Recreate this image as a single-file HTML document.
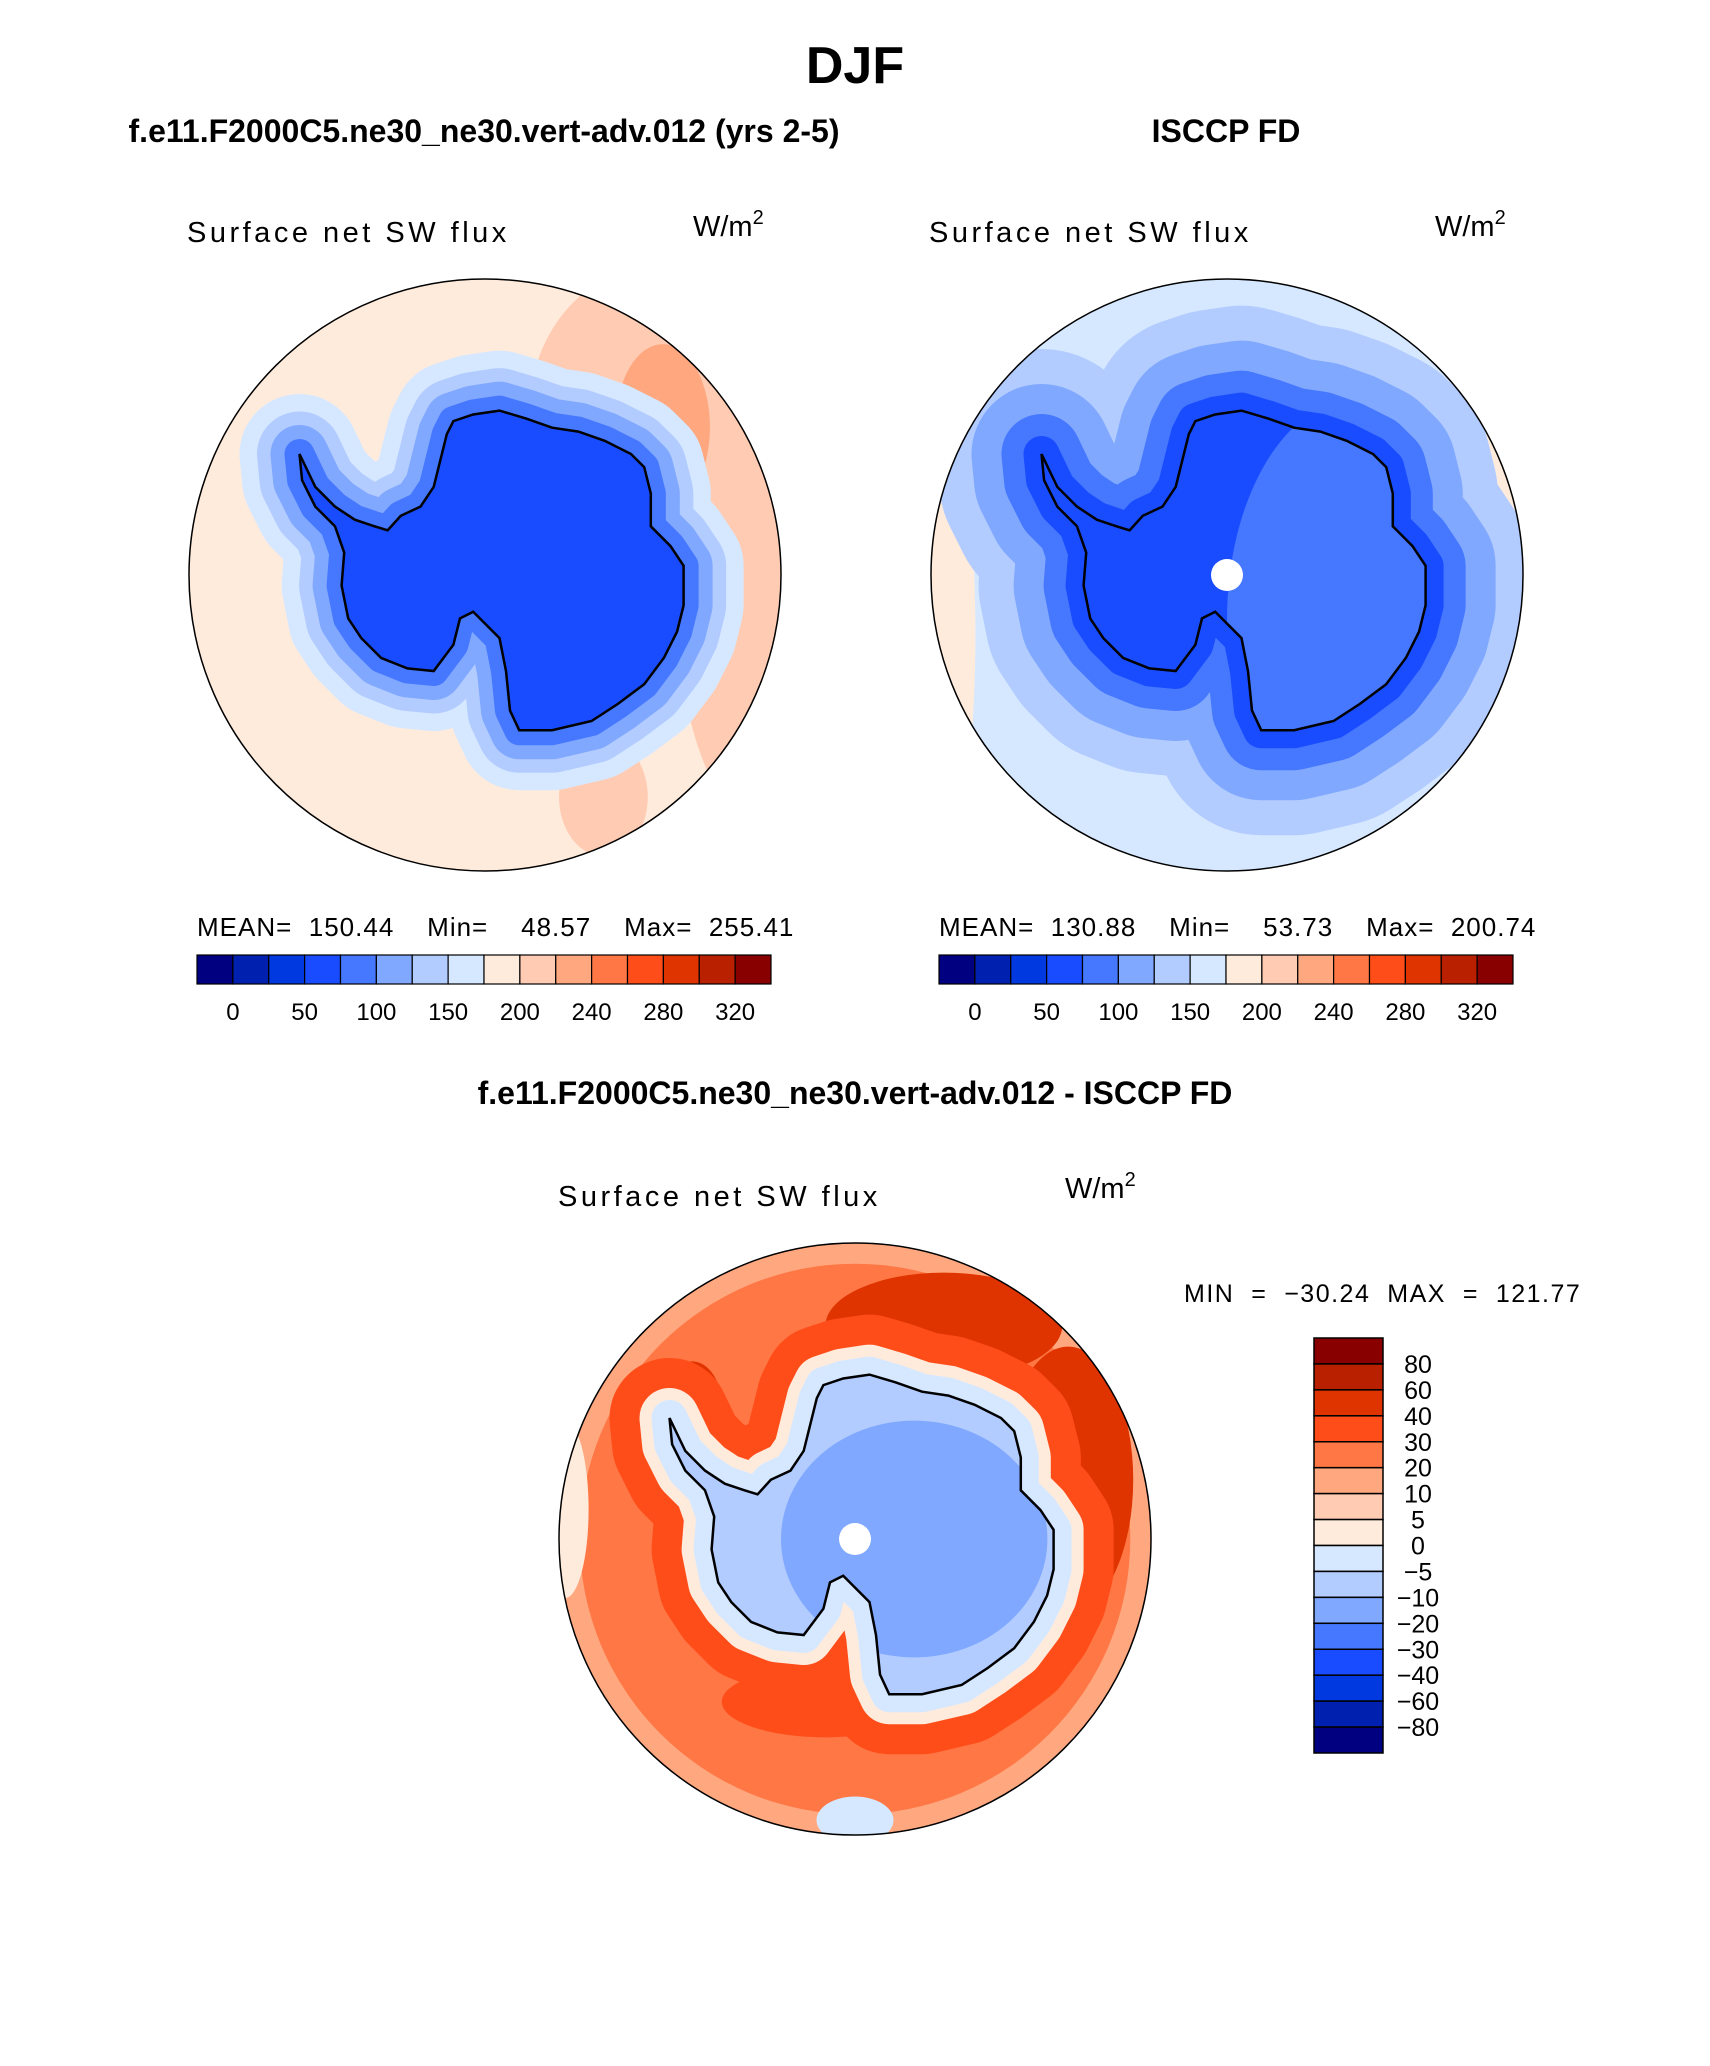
<!DOCTYPE html>
<html><head><meta charset="utf-8"><style>
body{margin:0;background:#fff}
svg text{font-family:"Liberation Sans",sans-serif;white-space:pre}
</style></head><body>
<svg id="fig" width="1710" height="2061" viewBox="0 0 1710 2061" xmlns="http://www.w3.org/2000/svg" xml:space="preserve">
<rect width="1710" height="2061" fill="#fff"/>
<text x="855" y="83" font-size="52" font-weight="bold" text-anchor="middle">DJF</text>
<text x="484" y="142" font-size="32" font-weight="bold" text-anchor="middle">f.e11.F2000C5.ne30_ne30.vert-adv.012 (yrs 2-5)</text>
<text x="1226" y="142" font-size="32" font-weight="bold" text-anchor="middle">ISCCP FD</text>
<text x="855" y="1104" font-size="32" font-weight="bold" text-anchor="middle">f.e11.F2000C5.ne30_ne30.vert-adv.012 - ISCCP FD</text>
<g id="maps"></g>
<g id="bars"></g>
</svg>
<script>
const NS="http://www.w3.org/2000/svg";
const colors=["#000080","#0020b0","#0039e0","#1a4cff","#4577ff","#80a8ff","#b3ccff","#d6e8ff","#ffebdc","#ffccb3","#ffa880","#ff7744","#ff4d1a","#e03400","#b82000","#880000"];
const absLabels=["0","50","100","150","200","240","280","320"];
const diffLabels=["−80","−60","−40","−30","−20","−10","−5","0","5","10","20","30","40","60","80"];
const coastX=[228,240,255,270,285,295,305,320,330,340,345,360,380,400,420,440,460,480,490,495,495,510,520,520,515,505,490,470,450,420,395,388,385,380,360,350,345,330,310,290,275,265,260,262,255,240,230];
const coastY=[345,370,385,395,400,403,392,385,370,330,320,315,312,318,325,328,335,345,355,375,400,415,430,460,480,500,520,535,548,555,555,540,510,485,465,470,490,510,508,500,485,470,445,420,400,385,365];
// halo bands: [stroke width in px, colorIndex]
const leftBands=[[120,7],[85,6],[58,5],[30,4]];
const leftFill=3;
const rightBands=[[210,6],[140,5],[80,4],[36,3]];
const rightFill=3;
const diffBands=[[120,12],[60,8],[36,7]];
const diffFill=6;
const maps=document.getElementById('maps');
function el(t,a,p){const e=document.createElementNS(NS,t);for(const k in a)e.setAttribute(k,a[k]);(p||maps).appendChild(e);return e;}
function pts(cx,cy,r){return coastX.map((x,i)=>{const nx=(x-369)/225,ny=(coastY[i]-437)/225;return (cx+nx*r).toFixed(1)+","+(cy+ny*r).toFixed(1);}).join(" ");}
function map(id,cx,cy,bg,extras,bands,fill,inner,pole){
  const r=296;
  const cp=el('clipPath',{id:'c'+id});el('circle',{cx,cy,r},cp);
  const ap=el('clipPath',{id:'a'+id});el('polygon',{points:pts(cx,cy,r)},ap);
  const g=el('g',{'clip-path':'url(#c'+id+')'});
  
  
  el('rect',{x:cx-r,y:cy-r,width:2*r,height:2*r,fill:bg},g);
  extras.forEach(e=>el('ellipse',{cx:cx+e[0]*r,cy:cy+e[1]*r,rx:e[2]*r,ry:e[3]*r,fill:colors[e[4]]},g));
  bands.forEach(b=>el('polygon',{points:pts(cx,cy,r),fill:colors[b[1]],stroke:colors[b[1]],'stroke-width':b[0],'stroke-linejoin':'round'},g));
  el('polygon',{points:pts(cx,cy,r),fill:colors[fill]},g);
  const ig=el('g',{'clip-path':'url(#a'+id+')'},g);
  inner.forEach(e=>el('ellipse',{cx:cx+e[0]*r,cy:cy+e[1]*r,rx:e[2]*r,ry:e[3]*r,fill:colors[e[4]]},ig));
  const c=el('polygon',{points:pts(cx,cy,r),fill:'none',stroke:'#000','stroke-width':2.5},g);
  
  
  if(pole)el('circle',{cx,cy,r:16,fill:'#fff'},g);
  const o=el('circle',{cx,cy,r,fill:'none',stroke:'#000','stroke-width':1.5});
  
  
}
map('model',485,575,colors[8],[[0.6,-0.55,0.45,0.5,9],[0.95,0.1,0.3,0.75,9],[0.6,-0.5,0.16,0.28,10],[-1.0,-0.5,0.1,0.15,9],[0.4,0.75,0.15,0.2,9]],leftBands,leftFill,[],false);
map('obs',1227,575,colors[7],[[-1.05,0.2,0.2,1.0,8],[1.12,0,0.28,1.0,8],[-0.95,-0.6,0.15,0.2,9]],rightBands,rightFill,[[0.45,0.15,0.45,0.75,4]],true);
map('diff',855,1539,colors[10],[[0,0,0.93,0.93,11],[0.3,-0.72,0.4,0.18,13],[0.72,-0.2,0.22,0.45,13],[-0.98,-0.1,0.08,0.3,8],[0,0.95,0.13,0.08,7],[-0.55,-0.45,0.1,0.15,13],[-0.1,0.55,0.35,0.12,12]],diffBands,diffFill,[[0.2,0,0.45,0.4,5]],true);
function txt(x,y,s,size,name,anchor){const t=el('text',{x,y,'font-size':size,'text-anchor':anchor||'start'});t.textContent=s;return t;}
function sup(x,y,name){const t=txt(x,y,'W/m','29',name);const s=document.createElementNS(NS,'tspan');s.setAttribute('dy','-12');s.setAttribute('font-size','20');s.textContent='2';t.appendChild(s);}
txt(187,242,'Surface net SW flux',29,'model-var-label').setAttribute('letter-spacing','3.5');
sup(693,236,'model-units');
txt(929,242,'Surface net SW flux',29,'obs-var-label').setAttribute('letter-spacing','3.5');
sup(1435,236,'obs-units');
txt(558,1206,'Surface net SW flux',29,'diff-var-label').setAttribute('letter-spacing','3.5');
sup(1065,1198,'diff-units');
txt(197,936,'MEAN=  150.44    Min=    48.57    Max=  255.41',26,'model-stats').setAttribute('letter-spacing','1');
txt(939,936,'MEAN=  130.88    Min=    53.73    Max=  200.74',26,'obs-stats').setAttribute('letter-spacing','1');
txt(1184,1302,'MIN  =  −30.24  MAX  =  121.77',25,'diff-stats').setAttribute('letter-spacing','1.5');
const bars=document.getElementById('bars');
function hbar(x0,x1,y,h,name){const w=(x1-x0)/colors.length;
 colors.forEach((c,i)=>{const r=el('rect',{x:x0+i*w,y,width:w,height:h,fill:c,stroke:'#000','stroke-width':1.2},bars);});
 absLabels.forEach((l,i)=>{const t=el('text',{x:x0+(2*i+1)*w,y:y+h+36,'font-size':24,'text-anchor':'middle'},bars);t.textContent=l;});}
hbar(197,771,955,29,'model-colorbar');hbar(939,1513,955,29,'obs-colorbar');
const vy0=1338,vy1=1753,vh=(vy1-vy0)/colors.length;
colors.slice().reverse().forEach((c,i)=>{const r=el('rect',{x:1314,y:vy0+i*vh,width:69,height:vh,fill:c,stroke:'#000','stroke-width':1.5},bars);});
diffLabels.slice().reverse().forEach((l,i)=>{const t=el('text',{x:1418,y:vy0+(i+1)*vh+9,'font-size':25,'text-anchor':'middle'},bars);t.textContent=l;});
</script>
</body></html>
